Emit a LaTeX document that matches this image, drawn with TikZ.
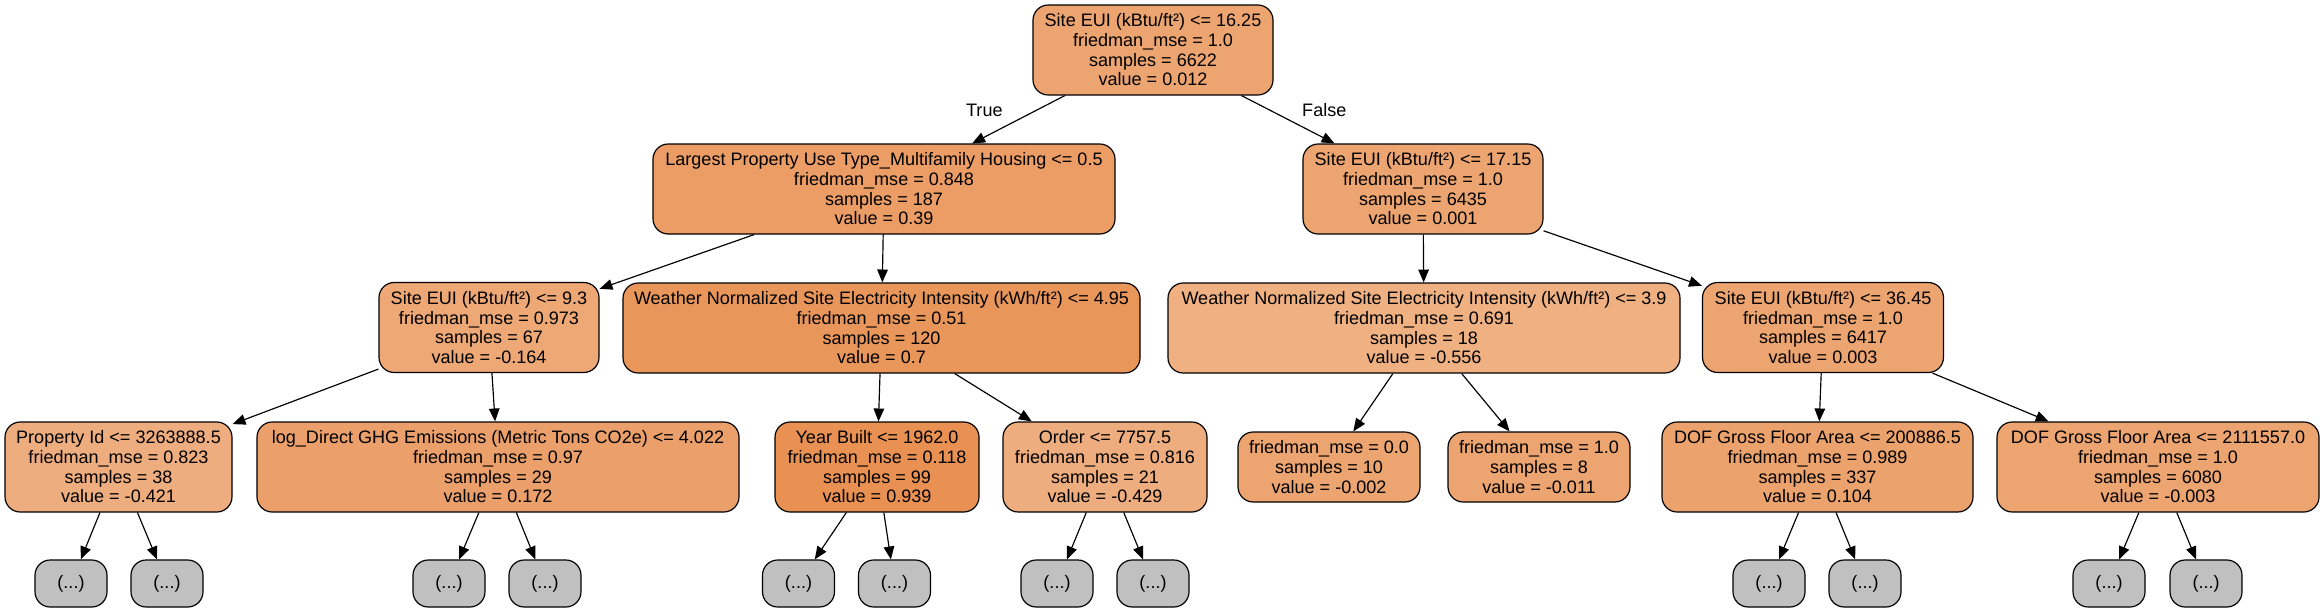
\documentclass[tikz,border=0pt]{standalone}
\usepackage{fontspec}
\setmainfont{Liberation Sans}
\usepackage{tikz}
\usetikzlibrary{arrows.meta}
\definecolor{sk}{RGB}{229,129,57}
\definecolor{cut}{RGB}{192,192,192}

\begin{document}
\begin{tikzpicture}[->,>={Triangle[length=11pt,width=9pt]},x=0.03cm,y=-0.03cm,
		line width=1pt,font=\fontsize{15.4}{16.8}\selectfont]
		\tikzstyle{split}=[rectangle,rounded corners=13pt,draw,align=center,
		minimum height=2.7cm,inner sep=2pt]
		\tikzstyle{pure}=[split,minimum height=2.1cm,minimum width=5.46cm]
		\tikzstyle{hidden}=[split,fill=cut,minimum width=2.16cm,minimum height=1.41cm]
		
		\useasboundingbox (0,0) rectangle (2323,613);
		
		\node[split,fill=sk!72!white,minimum width=7.2cm] (n0) at (1153,50)
		{Site EUI (kBtu/ft²) <= 16.25\\friedman\_mse = 1.0\\samples = 6622\\value = 0.012};
		
		\node[split,fill=sk!78!white,minimum width=13.86cm] (n1) at (884,189)
		{Largest Property Use Type\_Multifamily Housing <= 0.5\\friedman\_mse = 0.848\\samples = 187\\value = 0.39};
		\node[split,fill=sk!72!white,minimum width=7.2cm] (n8) at (1423,189)
		{Site EUI (kBtu/ft²) <= 17.15\\friedman\_mse = 1.0\\samples = 6435\\value = 0.001};
		
		\node[split,fill=sk!69!white,minimum width=6.6cm] (n2) at (489,327.5)
		{Site EUI (kBtu/ft²) <= 9.3\\friedman\_mse = 0.973\\samples = 67\\value = -0.164};
		\node[split,fill=sk!83!white,minimum width=15.51cm] (n5) at (881.5,328)
		{Weather Normalized Site Electricity Intensity (kWh/ft²) <= 4.95\\friedman\_mse = 0.51\\samples = 120\\value = 0.7};
		\node[split,fill=sk!63!white,minimum width=15.36cm] (n9) at (1424,328)
		{Weather Normalized Site Electricity Intensity (kWh/ft²) <= 3.9\\friedman\_mse = 0.691\\samples = 18\\value = -0.556};
		\node[split,fill=sk!72!white,minimum width=7.23cm] (n12) at (1823,327.5)
		{Site EUI (kBtu/ft²) <= 36.45\\friedman\_mse = 1.0\\samples = 6417\\value = 0.003};
		
		\node[split,fill=sk!65!white,minimum width=6.81cm] (n3) at (118.5,467)
		{Property Id <= 3263888.5\\friedman\_mse = 0.823\\samples = 38\\value = -0.421};
		\node[split,fill=sk!75!white,minimum width=14.46cm] (n4) at (498,467)
		{log\_Direct GHG Emissions (Metric Tons CO2e) <= 4.022\\friedman\_mse = 0.97\\samples = 29\\value = 0.172};
		\node[split,fill=sk!87!white,minimum width=6.12cm] (n6) at (877,467)
		{Year Built <= 1962.0\\friedman\_mse = 0.118\\samples = 99\\value = 0.939};
		\node[split,fill=sk!65!white,minimum width=6.12cm] (n7) at (1105,467)
		{Order <= 7757.5\\friedman\_mse = 0.816\\samples = 21\\value = -0.429};
		\node[pure,fill=sk!72!white] (n10) at (1329,467)
		{friedman\_mse = 0.0\\samples = 10\\value = -0.002};
		\node[pure,fill=sk!72!white] (n11) at (1539,467)
		{friedman\_mse = 1.0\\samples = 8\\value = -0.011};
		\node[split,fill=sk!74!white,minimum width=9.33cm] (n13) at (1817.5,467)
		{DOF Gross Floor Area <= 200886.5\\friedman\_mse = 0.989\\samples = 337\\value = 0.104};
		\node[split,fill=sk!72!white,minimum width=9.66cm] (n14) at (2158,467)
		{DOF Gross Floor Area <= 2111557.0\\friedman\_mse = 1.0\\samples = 6080\\value = -0.003};
		
		\node[hidden] (a1) at (71,583.5) {(...)};
		\node[hidden] (a2) at (167,583.5) {(...)};
		\node[hidden] (a3) at (449,583.5) {(...)};
		\node[hidden] (a4) at (545,583.5) {(...)};
		\node[hidden] (a5) at (798.5,583.5) {(...)};
		\node[hidden] (a6) at (894.5,583.5) {(...)};
		\node[hidden] (a7) at (1057,583.5) {(...)};
		\node[hidden] (a8) at (1153,583.5) {(...)};
		\node[hidden] (a9) at (1769,583.5) {(...)};
		\node[hidden] (a10) at (1865,583.5) {(...)};
		\node[hidden] (a11) at (2109,583.5) {(...)};
		\node[hidden] (a12) at (2206,583.5) {(...)};
		
		\path (n0) edge node[pos=0.3,left=0.9cm] {True} (n1)
		edge node[pos=0.3,right=0.85cm] {False} (n8)
		(n1) edge (n2)
		edge (n5)
		(n2) edge (n3)
		edge (n4)
		(n3) edge (a1)
		edge (a2)
		(n4) edge (a3)
		edge (a4)
		(n5) edge (n6)
		edge (n7)
		(n6) edge (a5)
		edge (a6)
		(n7) edge (a7)
		edge (a8)
		(n8) edge (n9)
		edge (n12)
		(n9) edge (n10)
		edge (n11)
		(n12) edge (n13)
		edge (n14)
		(n13) edge (a9)
		edge (a10)
		(n14) edge (a11)
		edge (a12);
		\end{tikzpicture}
\end{document}
